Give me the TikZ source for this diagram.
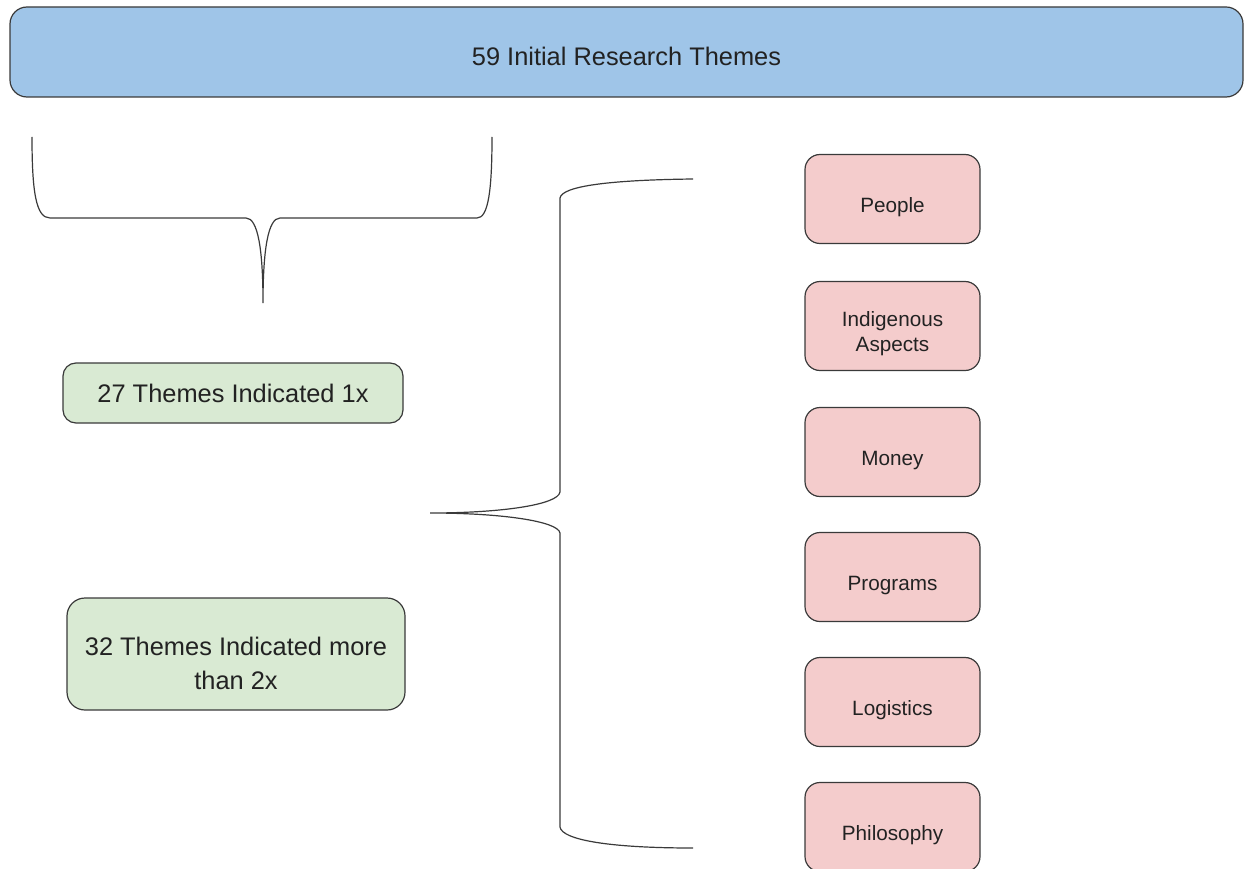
\documentclass[tikz,border=0pt]{standalone}
\usepackage{fontspec}
\setmainfont{Liberation Sans}
\definecolor{bluefill}{HTML}{9FC5E8}
\definecolor{greenfill}{HTML}{D9EAD3}
\definecolor{pinkfill}{HTML}{F4CCCC}
\definecolor{edge}{HTML}{3A3A3A}
\definecolor{txt}{HTML}{222222}
\newcommand{\lowered}[2]{\raisebox{0pt}[\dimexpr\height+#1+#1\relax][\depth]{\begin{tabular}{@{}c@{}}#2\end{tabular}}}
\begin{document}
\begin{tikzpicture}[x=1pt,y=-1pt,
  box/.style={draw=edge, line width=1.2pt, inner sep=0pt, align=center, text=txt},
  big/.style={font=\fontsize{25.4}{31}\selectfont},
  bigtwo/.style={font=\fontsize{25.4}{34}\selectfont},
  small/.style={font=\fontsize{20.7}{25}\selectfont},
  topbox/.style={box, big, fill=bluefill, rounded corners=17pt, minimum width=1233pt, minimum height=90pt},
  greenbox/.style={box, big, fill=greenfill, rounded corners=13pt},
  pinkbox/.style={box, small, fill=pinkfill, rounded corners=15pt, minimum width=175pt, minimum height=89pt},
  brace/.style={draw=edge, line width=1.2pt}
]
\clip (0,0) rectangle (1247,869);
\useasboundingbox (0,0) rectangle (1247,869);

\node[topbox] (top) at (626.5,52) {\lowered{7pt}{59 Initial Research Themes}};

\node[greenbox, minimum width=340pt, minimum height=60pt] (g1) at (233,393) {27 Themes Indicated 1x};
\node[greenbox, bigtwo, rounded corners=18pt, minimum width=338pt, minimum height=112pt] (g2) at (236,654) {\lowered{12pt}{32 Themes Indicated more\\than 2x}};

\node[pinkbox] (p1) at (892.5,199) {\lowered{8pt}{People}};
\node[pinkbox] (p2) at (892.5,326) {\lowered{8pt}{Indigenous\\Aspects}};
\node[pinkbox] (p3) at (892.5,452) {\lowered{8pt}{Money}};
\node[pinkbox] (p4) at (892.5,577) {\lowered{8pt}{Programs}};
\node[pinkbox] (p5) at (892.5,702) {\lowered{8pt}{Logistics}};
\node[pinkbox] (p6) at (892.5,827) {\lowered{8pt}{Philosophy}};

% left brace
\coordinate (lbA) at (32,137);
\coordinate (lbB) at (492,137);
\coordinate (lbtip) at (263,303);
\draw[brace] (lbA) .. controls (32,192) and (36,218) .. (50,218) -- (246,218)
  .. controls (258,218) and (263,250) .. (lbtip)
  .. controls (263,250) and (268,218) .. (280,218) -- (477,218)
  .. controls (488,218) and (492,192) .. (lbB);

% right brace
\coordinate (rbA) at (693,179);
\coordinate (rbB) at (693,848);
\coordinate (rbtip) at (430,513);
\draw[brace] (rbA) .. controls (610,180) and (562,186) .. (560,198) -- (560,492)
  .. controls (558,505) and (500,513) .. (rbtip)
  .. controls (500,513) and (558,521) .. (560,533) -- (560,827)
  .. controls (562,840) and (610,848) .. (rbB);
\end{tikzpicture}
\end{document}
